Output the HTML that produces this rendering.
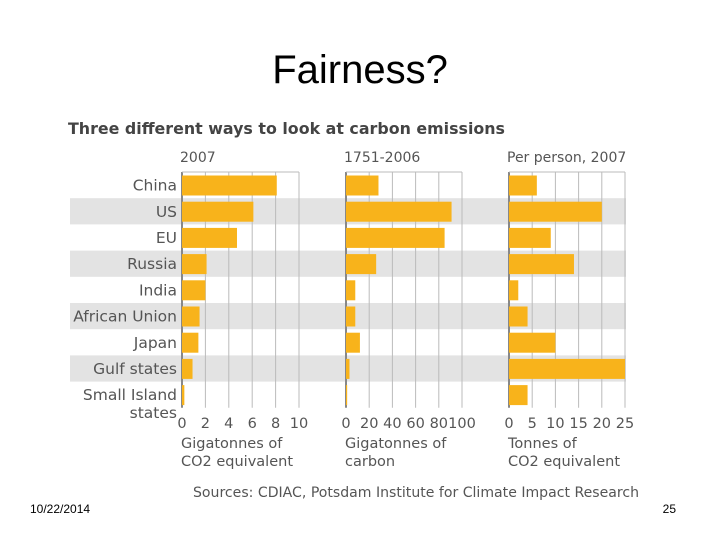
<!DOCTYPE html>
<html><head><meta charset="utf-8"><style>
body{margin:0;background:#fff;width:720px;height:540px;overflow:hidden;font-family:"Liberation Sans","DejaVu Sans",sans-serif}
</style></head><body>
<svg width="720" height="540" xmlns="http://www.w3.org/2000/svg">
<text x="360" y="83" text-anchor="middle" font-size="40" fill="#000" font-family="Liberation Sans, sans-serif">Fairness?</text>
<text x="68" y="134" font-size="15.8" font-weight="bold" fill="#444" font-family="DejaVu Sans, sans-serif" textLength="437" lengthAdjust="spacingAndGlyphs">Three different ways to look at carbon emissions</text>
<g id="bands"></g>
<g id="panels"></g>
<text x="193" y="497" font-size="14" fill="#555" font-family="DejaVu Sans, sans-serif" textLength="446" lengthAdjust="spacingAndGlyphs">Sources: CDIAC, Potsdam Institute for Climate Impact Research</text>
<text x="30" y="513" font-size="12" fill="#000">10/22/2014</text>
<text x="676" y="513" font-size="12" fill="#000" text-anchor="end">25</text>
</svg>
<script>
const categories=["China","US","EU","Russia","India","African Union","Japan","Gulf states","Small Island states"];
const emissions2007=[8.1,6.1,4.7,2.1,2.0,1.5,1.4,0.9,0.2];
const cumulative=[28,91,85,26,8,8,12,3,1];
const perPerson=[6,20,9,14,2,4,10,25,4];
const ticks1=[0,2,4,6,8,10];
const ticks2=[0,20,40,60,80,100];
const ticks3=[0,5,10,15,20,25];
const NS="http://www.w3.org/2000/svg";
const top0=172,rowH=26.2,plotBottom=top0+rowH*categories.length;
function mk(tag,attrs,parent,text){const e=document.createElementNS(NS,tag);for(const k in attrs)e.setAttribute(k,attrs[k]);if(text!==undefined)e.textContent=text;parent.appendChild(e);return e;}
const bands=document.getElementById('bands');
categories.forEach((c,i)=>{
  if(i%2===1){const r=mk('rect',{x:70,y:top0+i*rowH,width:556,height:rowH,fill:'#e3e3e3'},bands);
  
  }
  const cy=top0+i*rowH+rowH/2;
  const parts=c==="Small Island states"?["Small Island","states"]:[c];
  parts.forEach((p,j)=>{const t=mk('text',{x:177,y:cy+5.5+j*18,'text-anchor':'end','font-size':15.5,fill:'#555','font-family':'DejaVu Sans, sans-serif'},bands,p);
  
  });
});
const panels=[
 {x0:182,x1:299,max:10,vals:emissions2007,ticks:ticks1,head:"2007",sub:["Gigatonnes of","CO2 equivalent"],id:"2007"},
 {x0:346,x1:462,max:100,vals:cumulative,ticks:ticks2,head:"1751-2006",sub:["Gigatonnes of","carbon"],id:"cumulative"},
 {x0:509,x1:625,max:25,vals:perPerson,ticks:ticks3,head:"Per person, 2007",sub:["Tonnes of","CO2 equivalent"],id:"per-person"}];
const pg=document.getElementById('panels');
panels.forEach(p=>{
  const g=mk('g',{},pg);
  
  
  const sx=v=>p.x0+(v/p.max)*(p.x1-p.x0);
  const h=mk('text',{x:p.x0-2,y:162,'font-size':14,fill:'#555','font-family':'DejaVu Sans, sans-serif'},g,p.head);
  
  
  p.ticks.forEach(t=>{
    const l=mk('line',{x1:sx(t),x2:sx(t),y1:top0,y2:plotBottom,stroke:t===0?'#888':'#bbb','stroke-width':t===0?2:1},g);
    
    
    const tl=mk('text',{x:sx(t),y:428,'text-anchor':'middle','font-size':14.5,fill:'#555','font-family':'DejaVu Sans, sans-serif'},g,String(t));
    
    
  });
  const tl0=mk('line',{x1:p.x0,x2:p.x1,y1:top0,y2:top0,stroke:'#bbb','stroke-width':1},g);
  
  
  p.vals.forEach((v,i)=>{
    const b=mk('rect',{x:p.x0,y:top0+i*rowH+3.5,width:Math.max(sx(v)-p.x0,1),height:20,fill:'#f8b31b'},g);
    
    
  });
  p.sub.forEach((s,j)=>{const t=mk('text',{x:p.x0-1,y:448+j*18,'font-size':14.5,fill:'#555','font-family':'DejaVu Sans, sans-serif'},g,s);
  
  });
});
</script>
</body></html>
